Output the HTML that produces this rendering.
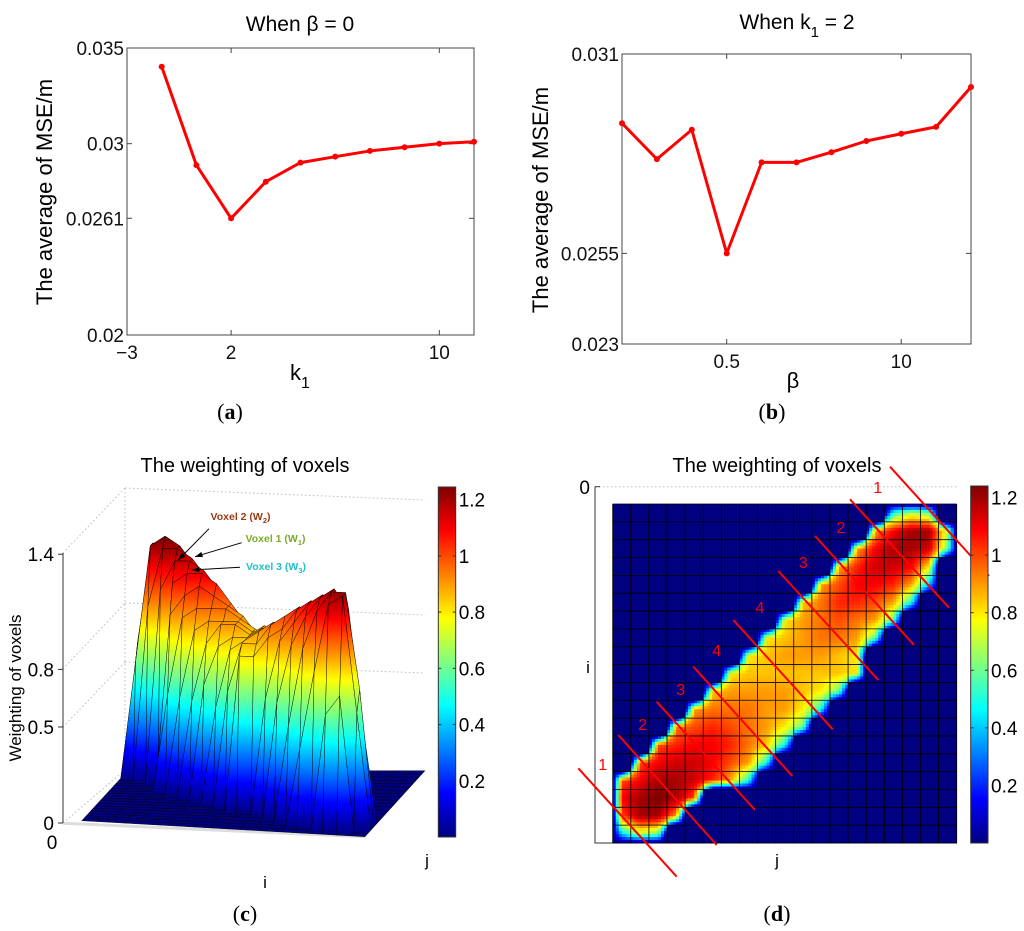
<!DOCTYPE html>
<html><head><meta charset="utf-8"><style>
body{margin:0;background:#fff;}
svg{display:block;font-family:"Liberation Sans",sans-serif;}
</style></head><body>
<svg id="fig" width="1024" height="931" viewBox="0 0 1024 931" xmlns="http://www.w3.org/2000/svg">
<defs>
<linearGradient id="jetV" x1="0" y1="1" x2="0" y2="0">
<stop offset="0" stop-color="#000080"/><stop offset="0.125" stop-color="#0000ff"/><stop offset="0.375" stop-color="#00ffff"/><stop offset="0.625" stop-color="#ffff00"/><stop offset="0.875" stop-color="#ff0000"/><stop offset="1" stop-color="#800000"/>
</linearGradient>
</defs>
<g id="pa"></g>
<g id="pb"></g>
<g id="pc"></g>
<g id="pd"></g>
</svg>
<script>
// ---- Panel (a) data ----
const aIndex = [1,2,3,4,5,6,7,8,9,10];
const aValues = [0.03402,0.02888,0.0261,0.02801,0.02901,0.02932,0.02962,0.02981,0.03000,0.03010];
const aXTickIndex = [0,3,9];
const aXTickLabels = ["\u22123","2","10"];
const aYTicks = [0.035,0.03,0.0261,0.02];
const aYTickLabels = ["0.035","0.03","0.0261","0.02"];
// ---- Panel (b) data ----
const bIndex = [0,1,2,3,4,5,6,7,8,9,10];
const bValues = [0.02909,0.02810,0.02891,0.02550,0.02801,0.02801,0.02829,0.02860,0.02880,0.02899,0.03009];
const bXTickIndex = [3,8];
const bXTickLabels = ["0.5","10"];
const bYTicks = [0.031,0.0255,0.023];
const bYTickLabels = ["0.031","0.0255","0.023"];
// ---- Weight matrix (panels c, d) ----
const weights = [
[0,0,0,0,0,0,0,0,0,0,0,0,0,0,0,.5,.7,.6,0],
[0,0,0,0,0,0,0,0,0,0,0,0,0,0,.9,1.1,1.2,1.2,.7],
[0,0,0,0,0,0,0,0,0,0,0,0,0,.9,1.1,1.2,1.2,1.15,.6],
[0,0,0,0,0,0,0,0,0,0,0,0,.9,1.05,1.15,1.15,1.1,.8,0],
[0,0,0,0,0,0,0,0,0,0,0,.9,1,1.1,1.1,1.05,.9,.4,0],
[0,0,0,0,0,0,0,0,0,0,.85,.95,1.05,1.05,1,.9,.5,0,0],
[0,0,0,0,0,0,0,0,0,.8,.9,.95,1,.95,.9,.6,0,0,0],
[0,0,0,0,0,0,0,0,.8,.85,.9,.95,.95,.9,.6,0,0,0,0],
[0,0,0,0,0,0,0,.8,.85,.9,.9,.9,.85,.8,0,0,0,0,0],
[0,0,0,0,0,0,.8,.85,.85,.85,.85,.85,.85,.8,0,0,0,0,0],
[0,0,0,0,0,.85,.9,.9,.9,.9,.85,.8,.6,0,0,0,0,0,0],
[0,0,0,0,.9,.95,.95,.95,.9,.9,.8,.5,0,0,0,0,0,0,0],
[0,0,0,.95,1,1.05,1,.95,.9,.8,.6,0,0,0,0,0,0,0,0],
[0,0,1,1.05,1.1,1.1,1.05,.95,.85,.5,0,0,0,0,0,0,0,0,0],
[0,1,1.1,1.15,1.15,1.1,1,.9,.5,0,0,0,0,0,0,0,0,0,0],
[1,1.1,1.2,1.2,1.15,1.05,.9,.5,0,0,0,0,0,0,0,0,0,0,0],
[1.1,1.2,1.25,1.2,1,0,0,0,0,0,0,0,0,0,0,0,0,0,0],
[1,1.2,1.2,.9,0,0,0,0,0,0,0,0,0,0,0,0,0,0,0],
[.4,.7,.6,0,0,0,0,0,0,0,0,0,0,0,0,0,0,0,0]];
const cbTicks = [0.2,0.4,0.6,0.8,1,1.2];
const cbTickLabels = ["0.2","0.4","0.6","0.8","1","1.2"];
const cZTicks = [0,0.5,0.8,1.4];
const cZTickLabels = ["0","0.5","0.8","1.4"];
const dLineLabels = ["1","2","3","4","4","3","2","1"];

const NS="http://www.w3.org/2000/svg";
function mk(tag,attrs,parent,text){const e=document.createElementNS(NS,tag);for(const k in attrs)e.setAttribute(k,attrs[k]);if(text!==undefined)e.textContent=text;parent.appendChild(e);return e;}
function jet(v,vmax){let t=Math.max(0,Math.min(1,v/vmax));const c=x=>Math.round(255*Math.max(0,Math.min(1,x)));return `rgb(${c(1.5-Math.abs(4*t-3))},${c(1.5-Math.abs(4*t-2))},${c(1.5-Math.abs(4*t-1))})`;}

function lineChart(g,o){
  const L=o.L,R=o.R,T=o.T,B=o.B;
  const xs=i=>L+(i-o.i0)*(R-L)/(o.i1-o.i0);
  const ys=v=>B-(v-o.ymin)*(B-T)/(o.ymax-o.ymin);
  const f=mk('rect',{x:L,y:T,width:R-L,height:B-T,fill:'none',stroke:'#444','stroke-width':1},g);
  
  o.yt.forEach((v,k)=>{const y=ys(v);
    mk('line',{x1:L,y1:y,x2:L+5,y2:y,stroke:'#444'},g);mk('line',{x1:R,y1:y,x2:R-5,y2:y,stroke:'#444'},g);
    const t=mk('text',{x:L-3,y:y+7,'text-anchor':'end','font-size':19,fill:'#111'},g,o.ytl[k]);
    });
  o.xt.forEach((i,k)=>{const x=xs(i);
    mk('line',{x1:x,y1:B,x2:x,y2:B-5,stroke:'#444'},g);mk('line',{x1:x,y1:T,x2:x,y2:T+5,stroke:'#444'},g);
    const t=mk('text',{x:x,y:B+24,'text-anchor':'middle','font-size':19,fill:'#111'},g,o.xtl[k]);
    });
  const pts=o.idx.map((i,k)=>xs(i)+','+ys(o.vals[k])).join(' ');
  const pl=mk('polyline',{points:pts,fill:'none',stroke:'#ff0000','stroke-width':3,'stroke-linejoin':'round'},g);
  
  o.idx.forEach((i,k)=>{const c=mk('circle',{cx:xs(i),cy:ys(o.vals[k]),r:3,fill:'#ff0000'},g);
    });
}
// Panel a
const pa=document.getElementById('pa');
lineChart(pa,{L:127,R:474,T:48,B:335,i0:0,i1:10,ymin:0.02,ymax:0.035,idx:aIndex,vals:aValues,xt:aXTickIndex,xtl:aXTickLabels,yt:aYTicks,ytl:aYTickLabels});
let t;
t=mk('text',{x:300,y:31,'text-anchor':'middle','font-size':21},pa,'When \u03b2 = 0');
t=mk('text',{x:0,y:0,'text-anchor':'middle','font-size':22,transform:'translate(52,192) rotate(-90)'},pa,'The average of MSE/m');
t=mk('text',{x:290,y:380,'font-size':22},pa,'');t.innerHTML='k<tspan dy="8" font-size="16">1</tspan>';
t=mk('text',{x:230,y:419,'text-anchor':'middle','font-size':22,'font-family':'Liberation Serif,serif'},pa,'');t.innerHTML='(<tspan font-weight="bold">a</tspan>)';
// Panel b
const pb=document.getElementById('pb');
lineChart(pb,{L:622,R:971,T:54,B:344,i0:0,i1:10,ymin:0.023,ymax:0.031,idx:bIndex,vals:bValues,xt:bXTickIndex,xtl:bXTickLabels,yt:bYTicks,ytl:bYTickLabels});
t=mk('text',{x:797,y:29,'text-anchor':'middle','font-size':21},pb,'');t.innerHTML='When k<tspan dy="8" font-size="15">1</tspan><tspan dy="-8"> = 2</tspan>';
t=mk('text',{x:0,y:0,'text-anchor':'middle','font-size':22,transform:'translate(548,200) rotate(-90)'},pb,'The average of MSE/m');
t=mk('text',{x:793,y:388,'text-anchor':'middle','font-size':22},pb,'\u03b2');
t=mk('text',{x:772,y:419,'text-anchor':'middle','font-size':22,'font-family':'Liberation Serif,serif'},pb,'');t.innerHTML='(<tspan font-weight="bold">b</tspan>)';

function colorbar(g,x,w,top,bottom,vmax){
  const r=mk('rect',{x:x,y:top,width:w,height:bottom-top,fill:'url(#jetV)',stroke:'#333'},g);
  
  const ys=v=>bottom-v*(bottom-top)/vmax;
  cbTicks.forEach((v,k)=>{const y=ys(v);mk('line',{x1:x,y1:y,x2:x+3,y2:y,stroke:'#333'},g);mk('line',{x1:x+w,y1:y,x2:x+w-3,y2:y,stroke:'#333'},g);
    const tt=mk('text',{x:x+w+3,y:y+7,'font-size':19},g,cbTickLabels[k]);});
}
// Panel c (3D surface)
const pc=document.getElementById('pc');
const defs=document.querySelector('defs');
[[125,488,125,770],[125,488,425,500],[63,553,125,488],[63,669,125,603],[63,727,125,662],[125,603,425,615],[125,662,425,673],[63,823,125,770]].forEach(l=>mk('line',{x1:l[0],y1:l[1],x2:l[2],y2:l[3],stroke:'#bbb','stroke-dasharray':'1.5,2.5'},pc));
const Cn={BL:[127.7,770.7],BR:[425,770.7],FR:[365,836.7],FL:[81.7,820.7]};
const K=194, N=weights.length, M=N+2;
function proj(r,c,z){const u=r/(M-1),v=c/(M-1);
  const bx=Cn.BR[0]+(Cn.BL[0]-Cn.BR[0])*u,by=Cn.BR[1]+(Cn.BL[1]-Cn.BR[1])*u;
  const fx=Cn.FR[0]+(Cn.FL[0]-Cn.FR[0])*u,fy=Cn.FR[1]+(Cn.FL[1]-Cn.FR[1])*u;
  return [bx+(fx-bx)*v,by+(fy-by)*v-z*K];}
const W=(r,c)=>(weights[r]&&weights[r][c])||0;
const WP=(r,c)=>W(r-1,c-1); // zero-padded
mk('line',{x1:63,y1:823.3,x2:365,y2:836.7,stroke:'#ddd','stroke-width':3},pc);
let gid=0;
for(let c=0;c<M-1;c++){for(let r=M-2;r>=0;r--){
  const vs=[[r,c],[r,c+1],[r+1,c+1],[r+1,c]];
  const P=vs.map(p=>proj(p[0],p[1],WP(p[0],p[1])));
  const mx=Math.max(...vs.map(p=>WP(p[0],p[1])));
  let fill='#000080';
  if(mx>0){const base=proj(r+0.5,c+0.5,0);const id='qg'+(gid++);
    const lg=mk('linearGradient',{id:id,gradientUnits:'userSpaceOnUse',x1:0,y1:base[1],x2:0,y2:base[1]-1.24*K},defs);
    [[0,'#000080'],[.125,'#0000ff'],[.375,'#00ffff'],[.625,'#ffff00'],[.875,'#ff0000'],[1,'#800000']].forEach(s=>mk('stop',{offset:s[0],'stop-color':s[1]},lg));
    fill='url(#'+id+')';}
  const q=mk('polygon',{points:P.map(p=>p[0].toFixed(1)+','+p[1].toFixed(1)).join(' '),fill:fill,stroke:'#000','stroke-width':0.5,'stroke-opacity':0.8},pc);
  
}}
mk('line',{x1:63,y1:553,x2:63,y2:823,stroke:'#333'},pc);
cZTicks.forEach((v,k)=>{const y=823-v*192;mk('line',{x1:58,y1:y,x2:63,y2:y,stroke:'#333'},pc);
  const tt=mk('text',{x:54,y:y+7,'text-anchor':'end','font-size':19},pc,cZTickLabels[k]);});
t=mk('text',{x:52,y:849,'text-anchor':'middle','font-size':19},pc,'0');
t=mk('text',{x:245,y:472,'text-anchor':'middle','font-size':20},pc,'The weighting of voxels');
t=mk('text',{x:0,y:0,'text-anchor':'middle','font-size':17,transform:'translate(21,688) rotate(-90)'},pc,'Weighting of voxels');
t=mk('text',{x:265,y:888,'text-anchor':'middle','font-size':17},pc,'i');
t=mk('text',{x:427,y:866,'text-anchor':'middle','font-size':17},pc,'j');
[[209,528.7,178.3,560],[241.7,542.7,195,556.7],[240,567.3,191.7,570]].forEach(a=>{mk('line',{x1:a[0],y1:a[1],x2:a[2],y2:a[3],stroke:'#000','stroke-width':1},pc);
  const ang=Math.atan2(a[3]-a[1],a[2]-a[0]);const s=8;
  mk('polygon',{points:`${a[2]},${a[3]} ${a[2]-s*Math.cos(ang-0.35)},${a[3]-s*Math.sin(ang-0.35)} ${a[2]-s*Math.cos(ang+0.35)},${a[3]-s*Math.sin(ang+0.35)}`,fill:'#000'},pc);});
[['Voxel 2 (W','2',')','#9a3a12',210.5,520],['Voxel 1 (W','1',')','#7aaa2a',245.5,542],['Voxel 3 (W','3',')','#20c0c8',246,570]].forEach(a=>{
  const tt=mk('text',{x:a[4],y:a[5],'font-size':10.5,'font-weight':'bold',fill:a[3]},pc,'');tt.innerHTML=a[0]+'<tspan dy="3" font-size="7.5">'+a[1]+'</tspan><tspan dy="-3">'+a[2]+'</tspan>';
  });
colorbar(pc,438.3,17.4,487,837,1.245);
t=mk('text',{x:245,y:921,'text-anchor':'middle','font-size':22,'font-family':'Liberation Serif,serif'},pc,'');t.innerHTML='(<tspan font-weight="bold">c</tspan>)';

// Panel d (heatmap)
const pd=document.getElementById('pd');
const HX=612.7,HY=504,HW=344,HH=339,cw=HW/N,ch=HH/N,SUB=6;
mk('line',{x1:595,y1:486.7,x2:957,y2:486.7,stroke:'#bbb','stroke-dasharray':'1.5,2.5'},pd);
mk('polyline',{points:'595,486.7 595,843 957,843',fill:'none',stroke:'#333'},pd);
mk('line',{x1:595,y1:486.7,x2:600,y2:486.7,stroke:'#333'},pd);
function cellSample(r,c,dx,dy){
  const sx=dx<0?-1:1, sy=dy<0?-1:1;
  const nx=W(r,c+sx), ny=W(r+sy,c), nd=W(r+sy,c+sy*0+sx);
  const own=W(r,c);
  let fx=Math.abs(dx)*(nx===0?2:1), fy=Math.abs(dy)*(ny===0?2:1);
  const ndv=W(r+sy,c+sx);
  return own*(1-fx)*(1-fy)+nx*fx*(1-fy)+ny*(1-fx)*fy+ndv*fx*fy;
}
for(let r=0;r<N;r++)for(let c=0;c<N;c++){
  if(W(r,c)===0){
    const cell=mk('rect',{x:HX+c*cw,y:HY+r*ch,width:cw+0.3,height:ch+0.3,fill:jet(0,1.245)},pd);
    continue;}
  for(let a=0;a<SUB;a++)for(let b=0;b<SUB;b++){
    const v=cellSample(r,c,(b+0.5)/SUB-0.5,(a+0.5)/SUB-0.5);
    const cell=mk('rect',{x:(HX+c*cw+b*cw/SUB).toFixed(2),y:(HY+r*ch+a*ch/SUB).toFixed(2),width:(cw/SUB+0.3).toFixed(2),height:(ch/SUB+0.3).toFixed(2),fill:jet(v,1.245)},pd);
    }
}
for(let k=0;k<=N;k++){mk('line',{x1:HX+k*cw,y1:HY,x2:HX+k*cw,y2:HY+HH,stroke:'#000','stroke-width':0.8},pd);mk('line',{x1:HX,y1:HY+k*ch,x2:HX+HW,y2:HY+k*ch,stroke:'#000','stroke-width':0.8},pd);}
[[578.3,768.3,676.7,876.7],[618.3,735,716.7,845],[656.7,701.7,755,810],[693.3,666.7,792.3,776],[733.3,620,832.7,729.3],[778.3,571,878.3,680],[815,536,914,645],[850,499.3,949,607.7],[890,466.7,989,576]].forEach(l=>{
  const ln=mk('line',{x1:l[0],y1:l[1],x2:l[2],y2:l[3],stroke:'#ff0000','stroke-width':2},pd);});
[[602.7,770],[642.7,730],[680.7,695],[716.7,656],[760,613],[803.3,568],[841,533],[877.7,493]].forEach((p,k)=>{
  const tt=mk('text',{x:p[0],y:p[1],'text-anchor':'middle','font-size':16,fill:'#ff0000'},pd,dLineLabels[k]);});
t=mk('text',{x:777,y:472,'text-anchor':'middle','font-size':20},pd,'The weighting of voxels');
t=mk('text',{x:590,y:494,'text-anchor':'end','font-size':19},pd,'0');
t=mk('text',{x:588,y:673,'text-anchor':'middle','font-size':17},pd,'i');
t=mk('text',{x:777,y:866,'text-anchor':'middle','font-size':17},pd,'j');
colorbar(pd,970.7,17.3,486,843,1.24);
t=mk('text',{x:777,y:921,'text-anchor':'middle','font-size':22,'font-family':'Liberation Serif,serif'},pd,'');t.innerHTML='(<tspan font-weight="bold">d</tspan>)';
</script>
</body></html>
